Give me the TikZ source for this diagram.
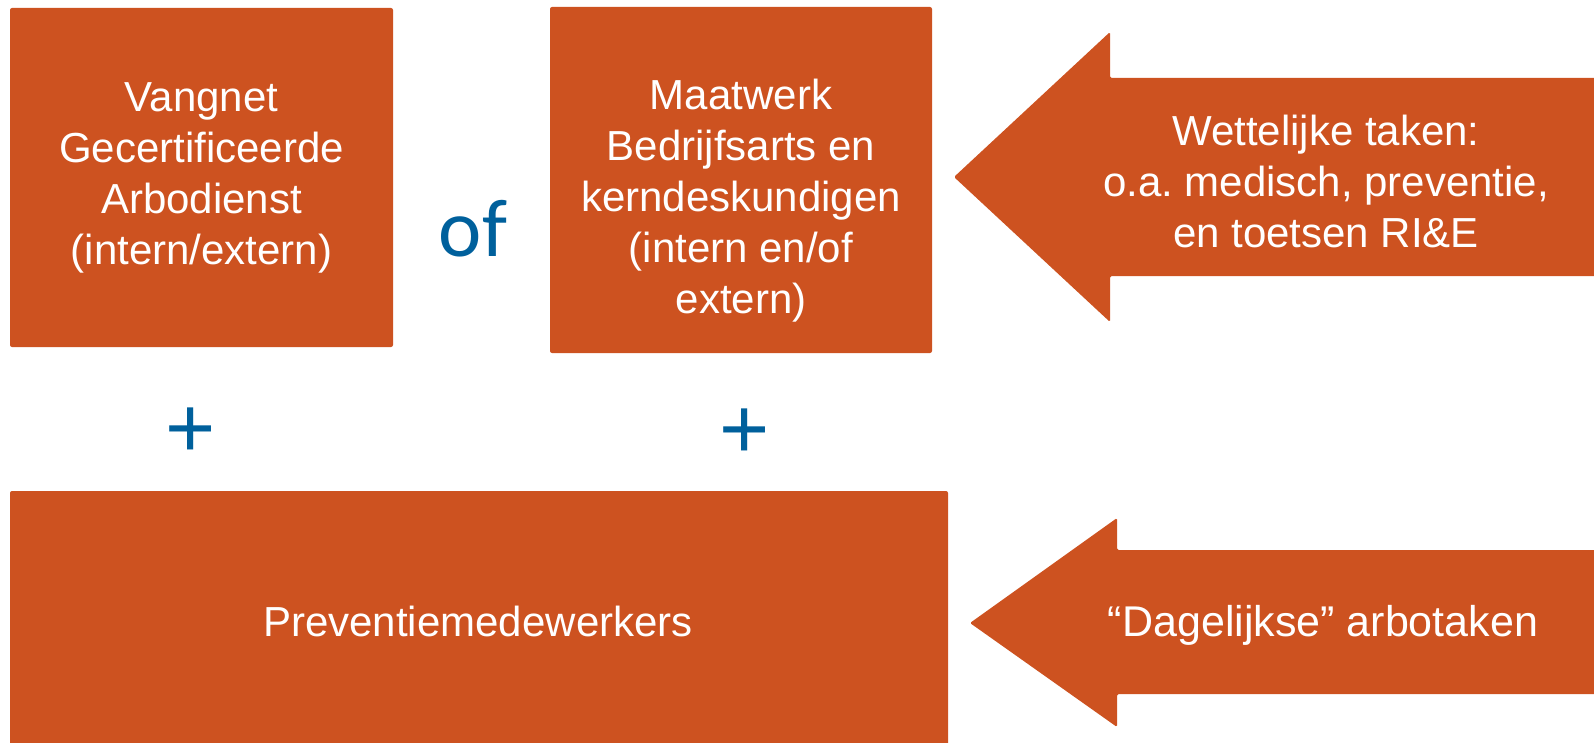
\documentclass[tikz,border=0pt]{standalone}
\usepackage{fontspec}
\setmainfont{Liberation Sans}
\newfontfamily\calibri{Carlito}
\definecolor{arbo}{HTML}{CD5220}
\definecolor{ofblue}{HTML}{00609C}
\frenchspacing
\begin{document}
\begin{tikzpicture}[x=1pt,y=-1pt,
	boxstyle/.style={rectangle,fill=arbo,rounded corners=2pt,inner sep=0pt,text=white,align=center,font=\fontsize{42}{51}\selectfont},
	textstyle/.style={text=white,align=center,inner sep=0pt,font=\fontsize{42}{51}\selectfont},
	plusstyle/.style={text=ofblue,inner sep=0pt,font=\fontsize{86}{86}\selectfont}]
	\useasboundingbox (0,0) rectangle (1594,743);

	\node [boxstyle,minimum width=383,minimum height=339] (vangnet) at (201.5,177.5)
		{Vangnet\\Gecertificeerde\\Arbodienst\\(intern/extern)};
	\node [boxstyle,minimum width=382,minimum height=346] (maatwerk) at (741,180) {};
	\node [textstyle] (maatwerktekst) at (741,201)
		{Maatwerk\\Bedrijfsarts en\\kerndeskundigen\\(intern en/of\\extern)};
	\node [boxstyle,minimum width=938,minimum height=262] (preventie) at (479,622) {};
	\node [textstyle] (preventietekst) at (478,621) {Preventiemedewerkers};

	\node [text=ofblue,inner sep=0pt,anchor=base,font=\calibri\fontsize{82}{82}\selectfont] (of) at (473,256) {of};
	\foreach \x/\y [count=\i] in {191/433,745/434}
		\node [plusstyle] (plus\i) at (\x,\y) {+};

	% pijlen van rechts
	\fill[arbo,rounded corners=1.5pt] (954,177) -- (1110,32) -- (1110,78) -- (1600,78) -- (1600,276) -- (1110,276) -- (1110,322) -- cycle;
	\fill[arbo,rounded corners=1.5pt] (970,623) -- (1117,518) -- (1117,550) -- (1600,550) -- (1600,694) -- (1117,694) -- (1117,727) -- cycle;
	\node [textstyle] (wettelijk) at (1326,181) {Wettelijke taken:\\o.a. medisch, preventie,\\en toetsen RI\&E};
	\node [textstyle,font=\fontsize{43}{51}\selectfont] (dagelijks) at (1323,625) {``Dagelijkse'' arbotaken};
\end{tikzpicture}
\end{document}
